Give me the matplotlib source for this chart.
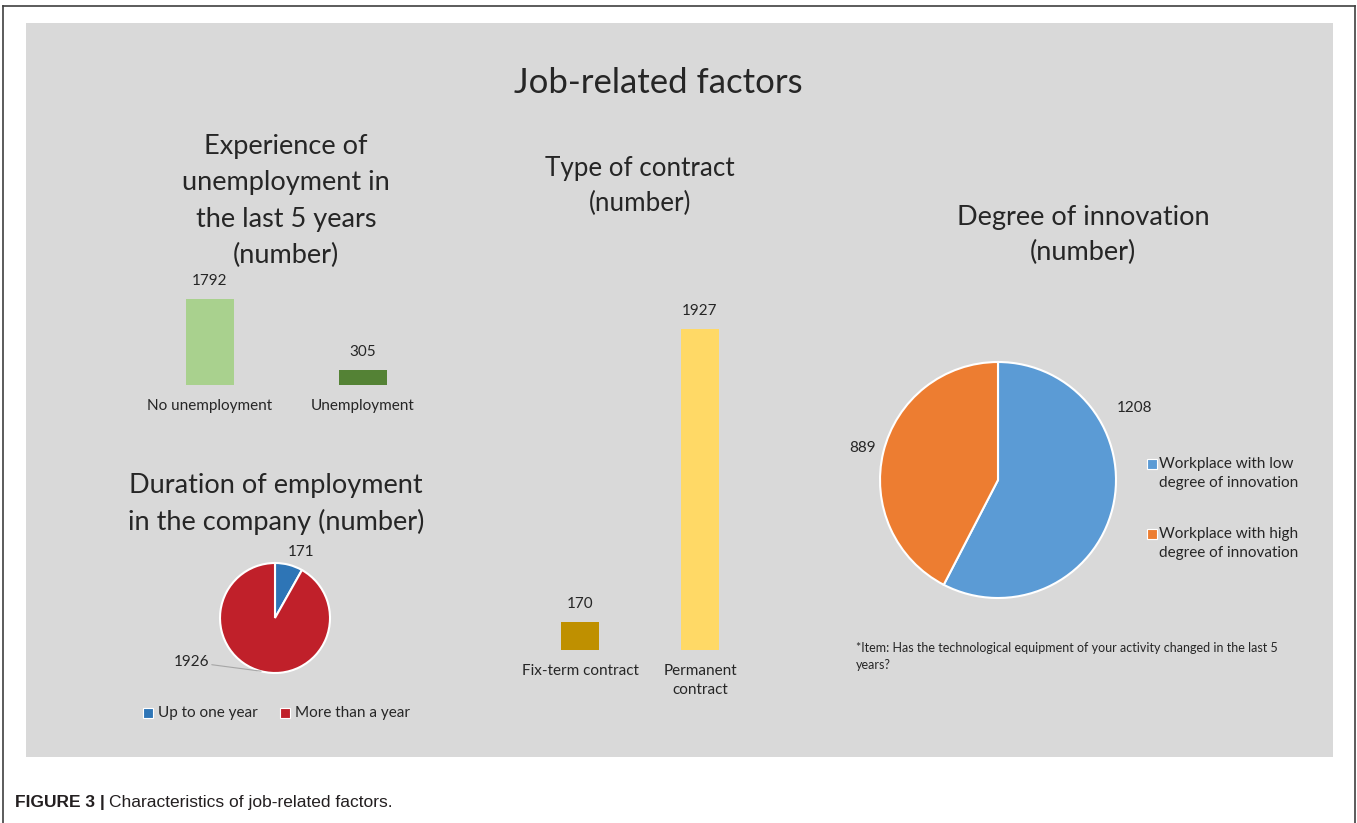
import matplotlib
matplotlib.use("Agg")
import matplotlib.pyplot as plt
import numpy as np
from matplotlib.patches import Rectangle
from matplotlib.lines import Line2D

plt.rcParams['font.family'] = ['Lato', 'DejaVu Sans']

# ---------------- data ----------------
unemp_cats = ["No unemployment", "Unemployment"]
unemp_vals = [1792, 305]

duration_cats = ["Up to one year", "More than a year"]
duration_vals = [171, 1926]

contract_cats = ["Fix-term contract", "Permanent\ncontract"]
contract_vals = [170, 1927]

innov_cats = ["Workplace with low\ndegree of innovation", "Workplace with high\ndegree of innovation"]
innov_vals = [1208, 889]

W, H = 1357, 823
fig = plt.figure(figsize=(W / 100, H / 100), dpi=100)
fig.patch.set_facecolor("white")

def fx(x):
    return x / W

def fy(y):
    return 1 - y / H

def ax_px(left, top, width, height):
    return fig.add_axes([fx(left), fy(top + height), width / W, height / H])

TXT = "#262626"
SUB = 19.5   # subtitle size
SM = 11      # small labels

# outer frame
for (x0, y0, x1, y1) in [(3, 6, 1355, 6), (3, 6, 3, 823), (1355, 6, 1355, 823)]:
    fig.add_artist(Line2D([fx(x0), fx(x1)], [fy(y0), fy(y1)], color="#404040", lw=1.2))
# grey panel
fig.add_artist(Rectangle((fx(26), fy(757)), (1333 - 26) / W, (757 - 23) / H,
                         facecolor="#D9D9D9", edgecolor="none", zorder=0))

fig.text(fx(658), fy(83), "Job-related factors", ha="center", va="center", fontsize=25, color=TXT)

# ---------------- bar chart 1 ----------------
ax1 = ax_px(133.5, 299, 306, 86)
x1 = np.arange(len(unemp_vals))
ax1.bar(x1, unemp_vals, width=0.314, color=["#A9D18E", "#548235"])
ax1.set_xlim(-0.5, 1.5)
ax1.set_ylim(0, max(unemp_vals))
ax1.axis("off")
for xi, v in zip(x1, unemp_vals):
    ax1.annotate(str(v), (xi, v), xytext=(0, 8), textcoords="offset points",
                 ha="center", va="bottom", fontsize=SM, color=TXT, annotation_clip=False)
    ax1.annotate(unemp_cats[xi], (xi, 0), xytext=(0, -10), textcoords="offset points",
                 ha="center", va="top", fontsize=SM, color=TXT, annotation_clip=False)
fig.text(fx(286), fy(201), "Experience of\nunemployment in\nthe last 5 years\n(number)",
         ha="center", va="center", fontsize=SUB, color=TXT, linespacing=1.56)

# ---------------- pie 1 ----------------
r1 = 55
axp1 = ax_px(275 - r1, 618 - r1, 2 * r1, 2 * r1)
cols1 = ["#2E75B6", "#C0202A"]
axp1.pie(duration_vals, colors=cols1, startangle=90, counterclock=False,
         wedgeprops=dict(edgecolor="white", linewidth=1.5))
axp1.set_xlim(-1, 1); axp1.set_ylim(-1, 1)
axp1.set_aspect("equal")
frac = np.array(duration_vals) / sum(duration_vals)
start = 90 - np.concatenate([[0], np.cumsum(frac)[:-1]]) * 360
mid = np.deg2rad(start - frac * 180)
axp1.text(1.3 * np.cos(mid[0]) + 0.15, 1.3 * np.sin(mid[0]) - 0.05, str(duration_vals[0]),
          ha="center", va="center", fontsize=SM, color=TXT)
axp1.annotate(str(duration_vals[1]), xy=(np.cos(mid[1]), np.sin(mid[1])), xytext=(-1.2, -0.8),
              ha="right", va="center", fontsize=SM, color=TXT, annotation_clip=False,
              arrowprops=dict(arrowstyle="-", color="#A6A6A6", lw=0.8, shrinkA=0, shrinkB=0))
fig.text(fx(276), fy(504), "Duration of employment\nin the company (number)",
         ha="center", va="center", fontsize=SUB, color=TXT, linespacing=1.5)
# legend
for (sx, lab, c) in [(148, duration_cats[0], cols1[0]), (285, duration_cats[1], cols1[1])]:
    fig.add_artist(Rectangle((fx(sx - 5), fy(718)), 10 / W, 10 / H, facecolor=c,
                             edgecolor="white", lw=0.8))
    fig.text(fx(sx + 10), fy(713), lab, ha="left", va="center", fontsize=SM, color=TXT)

# ---------------- bar chart 2 ----------------
ax2 = ax_px(520, 329, 240, 321)
x2 = np.arange(len(contract_vals))
ax2.bar(x2, contract_vals, width=0.317, color=["#BF9000", "#FFD966"])
ax2.set_xlim(-0.5, 1.5)
ax2.set_ylim(0, max(contract_vals))
ax2.axis("off")
for xi, v in zip(x2, contract_vals):
    ax2.annotate(str(v), (xi, v), xytext=(0, 8), textcoords="offset points",
                 ha="center", va="bottom", fontsize=SM, color=TXT, annotation_clip=False)
    ax2.annotate(contract_cats[xi], (xi, 0), xytext=(0, -10), textcoords="offset points",
                 ha="center", va="top", fontsize=SM, color=TXT, annotation_clip=False,
                 linespacing=1.5)
fig.text(fx(640), fy(186), "Type of contract\n(number)", ha="center", va="center",
         fontsize=18.7, color=TXT, linespacing=1.45)

# ---------------- pie 3 ----------------
r3 = 118
axp3 = ax_px(998 - r3, 480 - r3, 2 * r3, 2 * r3)
cols3 = ["#5B9BD5", "#ED7D31"]
axp3.pie(innov_vals, colors=cols3, startangle=90, counterclock=False,
         wedgeprops=dict(edgecolor="white", linewidth=1.5))
axp3.set_xlim(-1, 1); axp3.set_ylim(-1, 1)
axp3.set_aspect("equal")
axp3.text(1.16, 0.61, str(innov_vals[0]), ha="center", va="center", fontsize=SM, color=TXT)
axp3.text(-1.15, 0.27, str(innov_vals[1]), ha="center", va="center", fontsize=SM, color=TXT)
fig.text(fx(1083), fy(235), "Degree of innovation\n(number)", ha="center", va="center",
         fontsize=SUB, color=TXT, linespacing=1.5)
for (sy, lab, c) in [(464, innov_cats[0], cols3[0]), (534, innov_cats[1], cols3[1])]:
    fig.add_artist(Rectangle((fx(1147), fy(sy + 5)), 10 / W, 10 / H, facecolor=c,
                             edgecolor="white", lw=0.8))
    fig.text(fx(1159), fy(sy - 7), lab, ha="left", va="top", fontsize=SM, color=TXT,
             linespacing=1.45)
fig.text(fx(856), fy(642), "*Item: Has the technological equipment of your activity changed in the last 5\nyears?",
         ha="left", va="top", fontsize=9, color=TXT, linespacing=1.5)

# ---------------- caption ----------------
cap_fam = ['Liberation Sans Narrow', 'Liberation Sans', 'DejaVu Sans']
t = fig.text(fx(15), fy(803), "FIGURE 3 |", ha="left", va="center", fontsize=12.5,
             fontweight="bold", family=cap_fam, color="#231F20")
fig.canvas.draw()
bb = t.get_window_extent()
fig.text((bb.x1 + 4) / W, fy(803), "Characteristics of job-related factors.", ha="left", va="center",
         fontsize=12.5, family=cap_fam, color="#231F20")

fig.savefig("out.png", dpi=100, facecolor="white")
